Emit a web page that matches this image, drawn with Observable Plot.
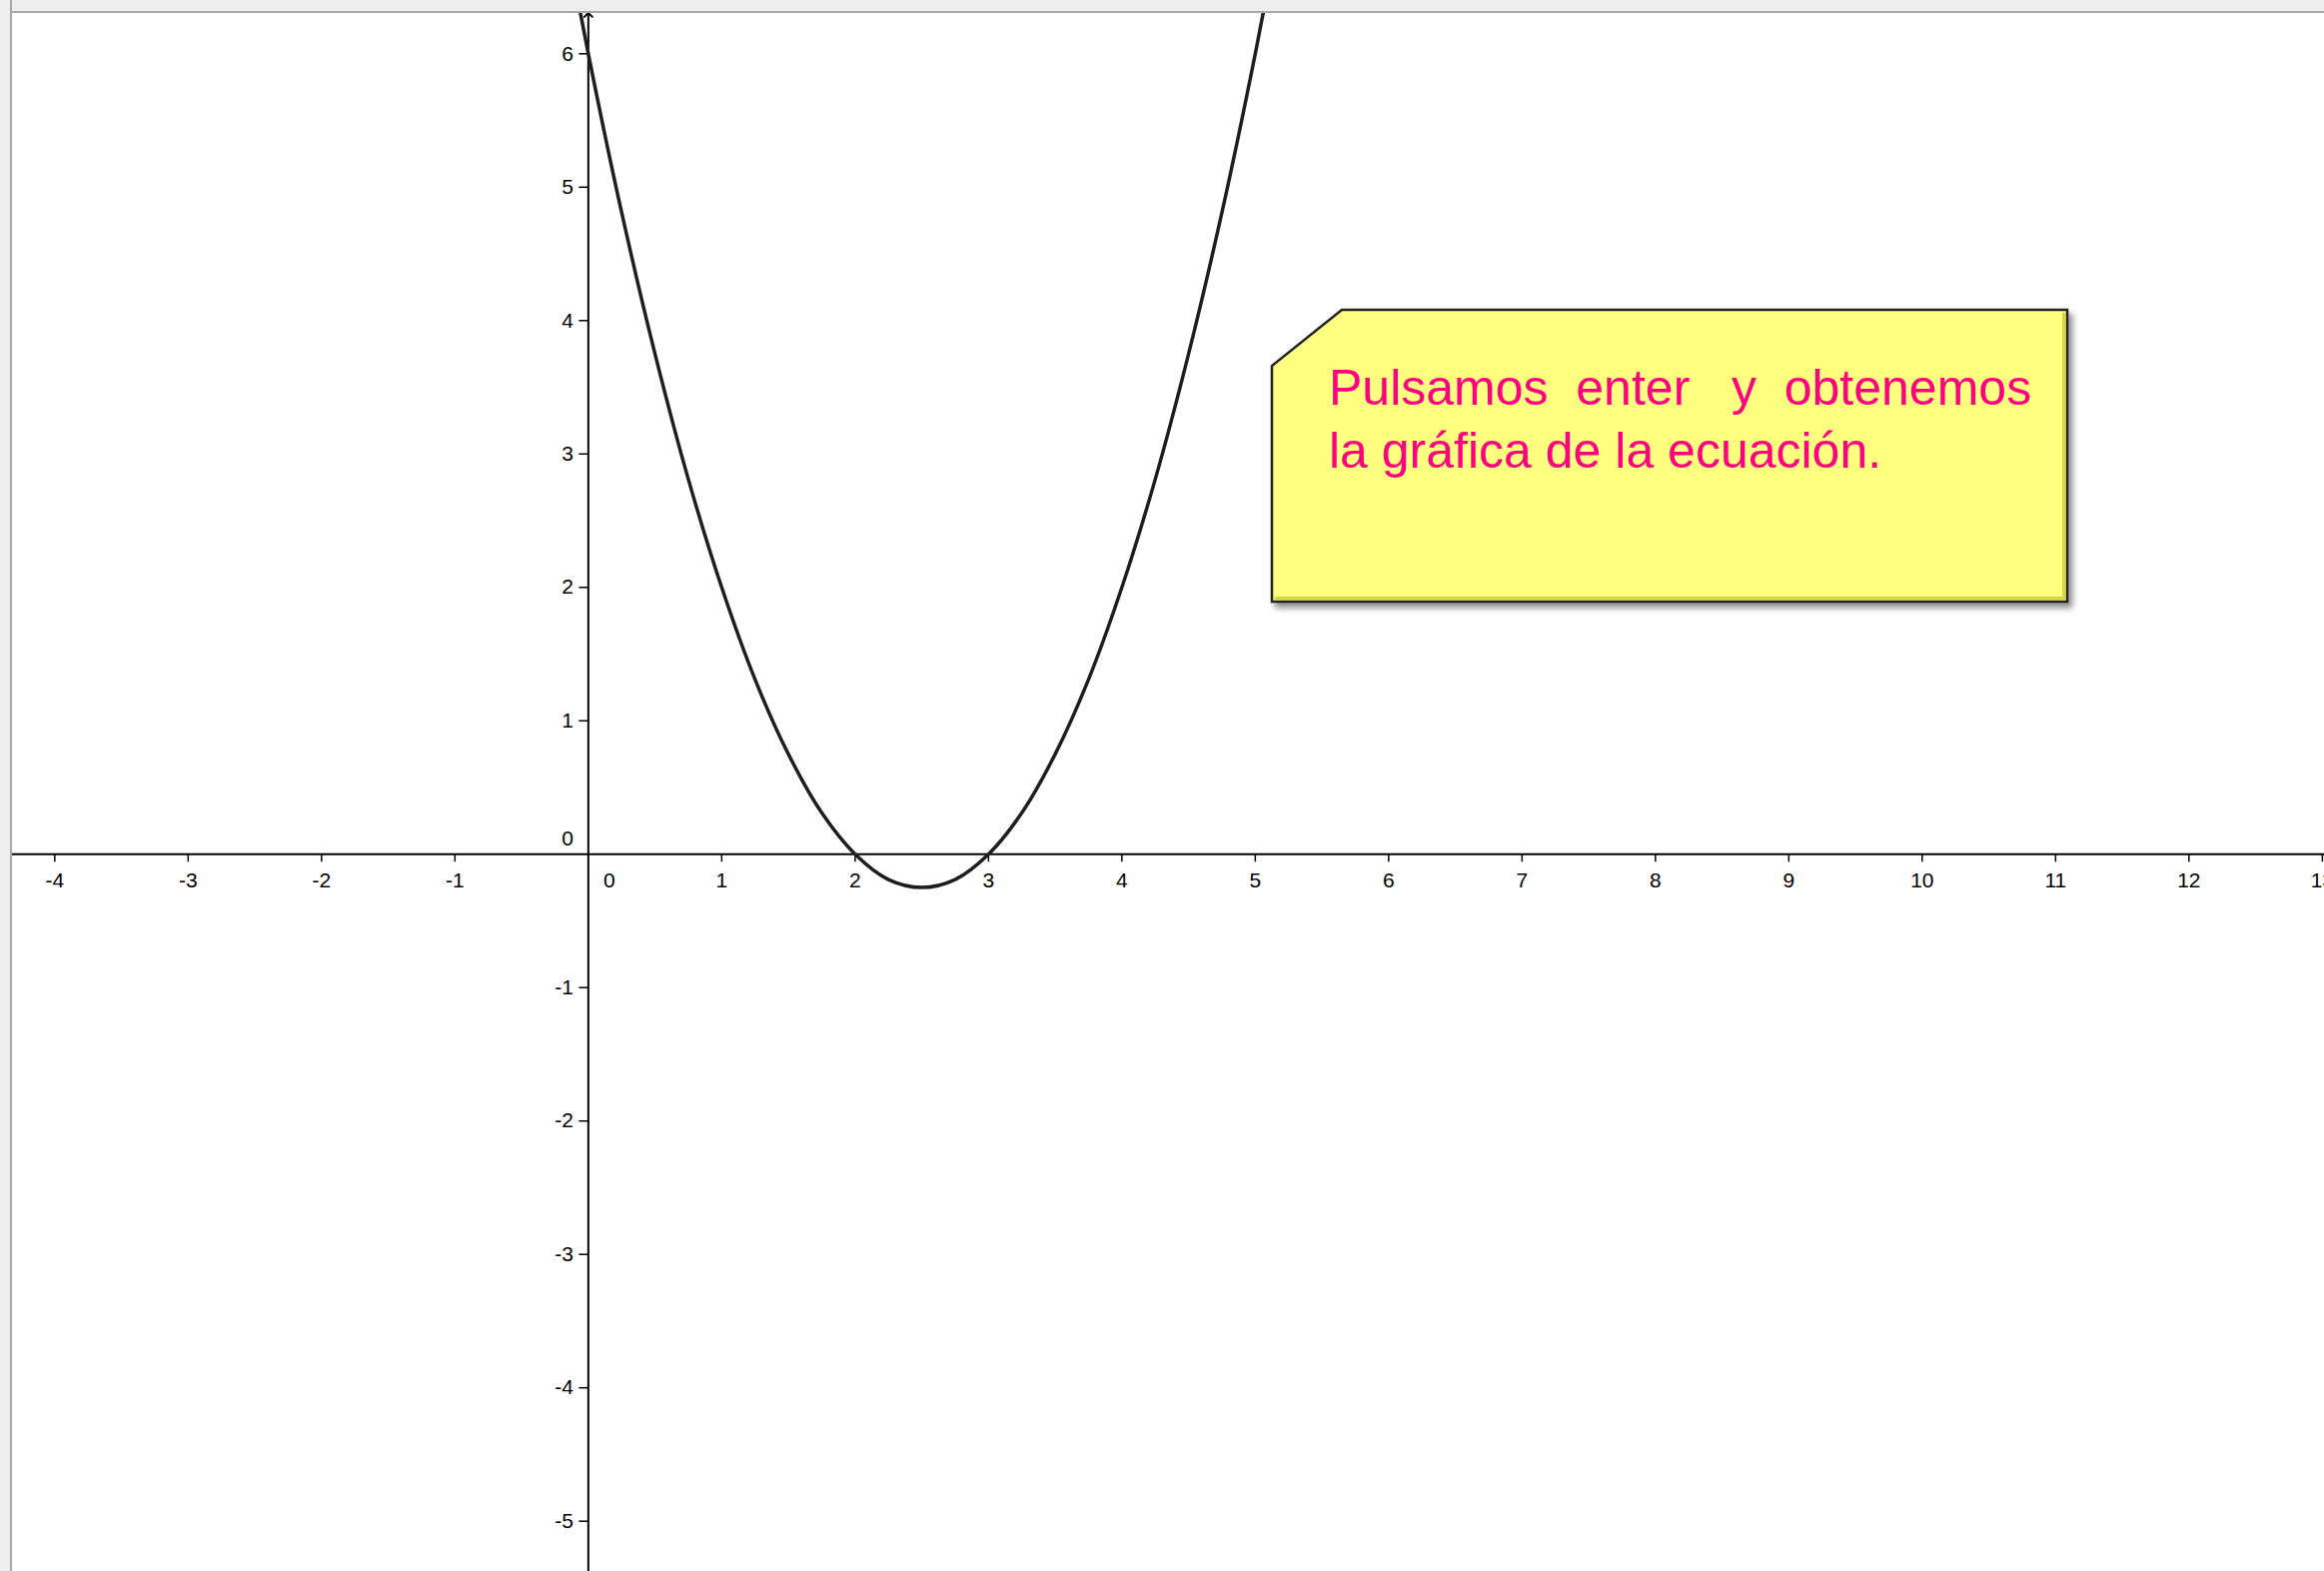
<!DOCTYPE html>
<html>
<head>
<meta charset="utf-8">
<script src="https://cdn.jsdelivr.net/npm/d3@7"></script>
<script src="https://cdn.jsdelivr.net/npm/@observablehq/plot@0.6"></script>
<style>
  html, body { margin: 0; padding: 0; background: #fff; }
  #wrap { position: relative; width: 2326px; height: 1572px; overflow: hidden; background: #fff; }
  #chart { position: absolute; left: 0; top: 0; }
  #header { position: absolute; left: 0; top: 0; width: 2326px; height: 11px; background: #eeeeee; overflow: hidden; border-bottom: 2px solid #a8a8a8; }
  #header span { position: absolute; left: 78px; top: -26px; font: bold 29px "Liberation Sans", Arial, sans-serif; color: #8a8a80; white-space: nowrap; }
  #leftbar { position: absolute; left: 0; top: 0; width: 10px; height: 1572px; background: #eeeeee; border-right: 2px solid #a8a8a8; }
  #note { position: absolute; left: 0; top: 0; }
</style>
</head>
<body>
<div id="wrap">
  <div id="chart"></div>
  <div id="header"><span>Vista Gráfica</span></div>
  <div id="leftbar"></div>
  <svg id="note" width="2326" height="1572"></svg>
</div>
<script>
// ---- data ----
const curveX = [-0.25, 0, 0.25, 0.5, 0.75, 1, 1.25, 1.5, 1.75, 2, 2.25, 2.5, 2.75, 3, 3.25, 3.5, 3.75, 4, 4.25, 4.5, 4.75, 5, 5.25];
const curveY = [7.31, 6, 4.81, 3.75, 2.81, 2, 1.31, 0.75, 0.31, 0, -0.19, -0.25, -0.19, 0, 0.31, 0.75, 1.31, 2, 2.81, 3.75, 4.81, 6, 7.31];
const xTicks = [-4, -3, -2, -1, 1, 2, 3, 4, 5, 6, 7, 8, 9, 10, 11, 12, 13];
const yTicks = [-5, -4, -3, -2, -1, 1, 2, 3, 4, 5, 6];
const xDomain = [-4.317, 13.016];
const yDomain = [-5.377, 6.302];
const noteLines = ["Pulsamos  enter   y  obtenemos", "la gráfica de la ecuación."];

// ---- chart ----
const W = 2326, H = 1572;
const mL = 12, mT = 13;
const unitY = (H - mT) / (yDomain[1] - yDomain[0]);
const unitX = (W - mL) / (xDomain[1] - xDomain[0]);
const tickLenY = 8 / unitY;
const tickLenX = 9 / unitX;
const font = "Liberation Sans, Arial, sans-serif";

const curve = curveX.map((x, i) => ({x, y: curveY[i]}));
const yAxisLink = [{x1: 0, y1: yDomain[0], x2: 0, y2: yDomain[1] - 0.01}];

const plot = Plot.plot({
  width: W,
  height: H,
  marginLeft: mL,
  marginTop: mT,
  marginRight: 0,
  marginBottom: 0,
  x: {domain: xDomain, axis: null},
  y: {domain: yDomain, axis: null},
  style: {background: "#fff", fontFamily: font},
  marks: [
    Plot.ruleY([0], {stroke: "#000", strokeWidth: 2}),
    Plot.link(yAxisLink, {x1: "x1", y1: "y1", x2: "x2", y2: "y2", stroke: "#000", strokeWidth: 2, markerEnd: "arrow"}),
    Plot.ruleX(xTicks, {x: d => d, y1: 0, y2: -tickLenY, stroke: "#000", strokeWidth: 1.5}),
    Plot.text(xTicks, {x: d => d, y: 0, text: d => String(d), dy: 27, fontSize: 21, fill: "#000", fontFamily: font}),
    Plot.text([0], {x: 0, y: 0, text: d => String(d), dx: 21, dy: 27, fontSize: 21, fill: "#000", fontFamily: font}),
    Plot.ruleY(yTicks, {y: d => d, x1: -tickLenX, x2: 0, stroke: "#000", strokeWidth: 1.5}),
    Plot.text(yTicks, {x: 0, y: d => d, text: d => String(d), dx: -15, textAnchor: "end", fontSize: 21, fill: "#000", fontFamily: font}),
    Plot.text([0], {x: 0, y: 0, text: d => String(d), dx: -15, dy: -15, textAnchor: "end", fontSize: 21, fill: "#000", fontFamily: font}),
    Plot.line(curve, {x: "x", y: "y", curve: "catmull-rom", stroke: "#1e1e1e", strokeWidth: 3.5, clip: true})
  ]
});
document.getElementById("chart").appendChild(plot);

// ---- note box (annotation) ----
const svg = d3.select("#note");
const defs = svg.append("defs");
const f = defs.append("filter").attr("id", "sh").attr("x", "-10%").attr("y", "-10%").attr("width", "130%").attr("height", "130%");
f.append("feDropShadow").attr("dx", 4).attr("dy", 5).attr("stdDeviation", 3).attr("flood-color", "#000").attr("flood-opacity", 0.45);
const pts = [[1343, 310], [2069, 310], [2069, 602], [1273, 602], [1273, 366]];
svg.append("polygon")
  .attr("points", pts.map(p => p.join(",")).join(" "))
  .attr("fill", "#ffff80")
  .attr("stroke", "#222")
  .attr("stroke-width", 2.5)
  .attr("filter", "url(#sh)");
svg.append("polyline")
  .attr("points", "1276,598.5 2065.5,598.5 2065.5,313")
  .attr("fill", "none").attr("stroke", "#d6d645").attr("stroke-width", 3);
noteLines.forEach((t, i) => {
  svg.append("text")
    .attr("x", 1330).attr("y", 405 + i * 63)
    .attr("xml:space", "preserve")
    .style("white-space", "pre")
    .attr("font-family", font)
    .attr("font-size", 50)
    .attr("fill", "#ff0080")
    .text(t);
});
</script>
</body>
</html>
